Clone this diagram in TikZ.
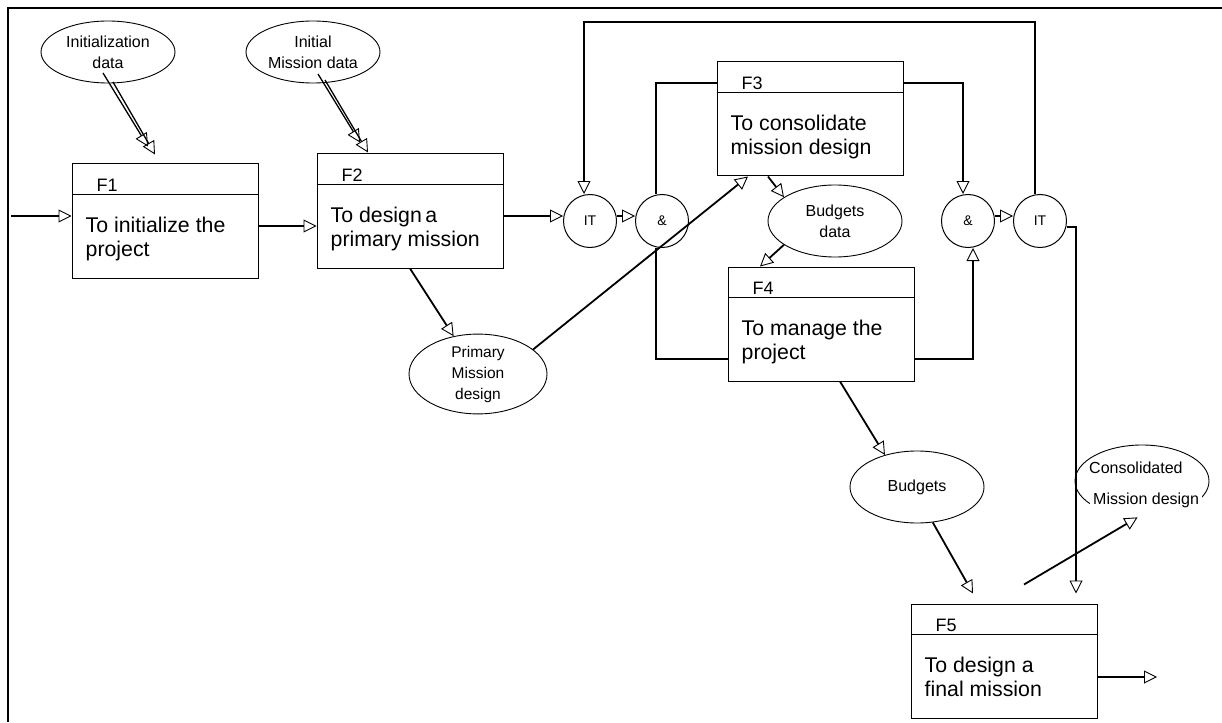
\documentclass[tikz,border=0pt]{standalone}
\usepackage{fontspec}
\setmainfont{Liberation Sans}
\usetikzlibrary{shapes.geometric, arrows.meta, calc}

\begin{document}
\begin{tikzpicture}[
        x=1pt, y=-1pt,
        fbox/.style={rectangle, draw, line width=1pt, minimum width=186pt, minimum height=114pt, inner sep=0pt},
        fid/.style={anchor=base west, inner sep=0pt, font=\fontsize{18}{20}\selectfont},
        ftext/.style={anchor=base west, inner sep=0pt, align=left, font=\fontsize{21.3}{24}\selectfont},
        info/.style={ellipse, draw, line width=0.9pt, minimum width=134pt, minimum height=72pt, inner sep=0pt, align=center, font=\fontsize{16}{21}\selectfont},
        gate/.style={circle, draw, line width=1pt, minimum size=53pt, inner sep=0pt, font=\fontsize{14}{16}\selectfont},
        hline/.style={line width=1.8pt},
        wire/.style={line width=1.8pt},
        arrow/.style={wire, -{Triangle[open, length=13pt, width=13pt, line width=0.9pt]}},
        twin/.style={arrow, line width=1.3pt}
    ]
        \useasboundingbox (0,0) rectangle (1222,722);
        \draw[line width=1.2pt] (8,722) -- (8,8) -- (1222,8);

        % 1. Function blocks
        \node[fbox] (f1) at (165,221) {};
        \node[fbox] (f2) at (410,211) {};
        \node[fbox] (f3) at (810,119) {};
        \node[fbox] (f4) at (821,324) {};
        \node[fbox] (f5) at (1004,661) {};

        \draw[hline] ([yshift=-31pt]f1.north west) -- ([yshift=-31pt]f1.north east);
        \draw[hline] ([yshift=-31pt]f2.north west) -- ([yshift=-31pt]f2.north east);
        \draw[hline] ([yshift=-31pt]f3.north west) -- ([yshift=-31pt]f3.north east);
        \draw[hline] ([yshift=-31pt]f4.north west) -- ([yshift=-31pt]f4.north east);
        \draw[hline] ([yshift=-31pt]f5.north west) -- ([yshift=-31pt]f5.north east);

        \node[fid] (f1id) at ([xshift=25pt, yshift=-28pt]f1.north west) {F1};
        \node[fid] (f2id) at ([xshift=25pt, yshift=-28pt]f2.north west) {F2};
        \node[fid] (f3id) at ([xshift=25pt, yshift=-28pt]f3.north west) {F3};
        \node[fid] (f4id) at ([xshift=25pt, yshift=-28pt]f4.north west) {F4};
        \node[fid] (f5id) at ([xshift=25pt, yshift=-28pt]f5.north west) {F5};

        % base of a two-line text is its second line
        \node[ftext] (f1txt) at ([xshift=14pt, yshift=-93pt]f1.north west) {To initialize the\\project};
        \node[ftext] (f2txt) at ([xshift=14pt, yshift=-93pt]f2.north west) {To design\,a\\primary mission};
        \node[ftext] (f3txt) at ([xshift=14pt, yshift=-93pt]f3.north west) {To consolidate\\mission design};
        \node[ftext] (f4txt) at ([xshift=14pt, yshift=-93pt]f4.north west) {To manage the\\project};
        \node[ftext] (f5txt) at ([xshift=14pt, yshift=-93pt]f5.north west) {To design a\\final mission};

        % 2. Data items
        \node[info, minimum height=62pt] (idata) at (108,52) {Initialization\\data};
        \node[info, minimum height=62pt] (imdata) at (313,52) {Initial\\Mission data};
        \node[info, minimum width=138pt, font=\fontsize{15.5}{21}\selectfont] (pmd) at (478,374) {Primary\\Mission\\design};
        \node[info] (bdata) at (835,221) {Budgets\\data};
        \node[info] (budgets) at (917,487) {Budgets};
        \node[info] (cmd) at (1142,481) {};
        \node[anchor=base west, inner sep=0pt, font=\fontsize{16}{21}\selectfont] (cmdtop) at ([xshift=-53pt, yshift=8pt]cmd.center) {Consolidated};
        \node[anchor=base west, fill=white, inner xsep=3pt, inner ysep=0pt, text height=23pt, text depth=15pt, font=\fontsize{16}{21}\selectfont] (cmdbot) at ([xshift=-52pt, yshift=-23pt]cmd.center) {Mission design};

        % 3. Iteration and join gates
        \node[gate] (it1) at (590,221) {IT};
        \node[gate] (and1) at (662,221) {\&};
        \node[gate] (and2) at (968,221) {\&};
        \node[gate] (it2) at (1040,221) {IT};

        \coordinate (start) at (11,216);
        \coordinate (finish) at (1157,677);
        \coordinate (looptop) at (0,22);
        \coordinate (f1out) at ([yshift=-5pt]f1.east);
        \coordinate (f2out) at ([yshift=-5pt]f2.east);
        \coordinate (it1top) at ([xshift=-6pt]it1.north);
        \coordinate (it2top) at ([xshift=-5pt]it2.north);

        % Connections
        \draw[twin] ([xshift=-5pt, yshift=-21pt]idata.center) -- ([xshift=-17pt, yshift=17pt]f1.north);
        \draw[twin] ([xshift=5pt, yshift=-30pt]idata.center) -- ([xshift=-10pt, yshift=9pt]f1.north);
        \draw[twin] ([xshift=5pt, yshift=-22pt]imdata.center) -- ([xshift=-50pt, yshift=11pt]f2.north);
        \draw[twin] ([xshift=12pt, yshift=-28pt]imdata.center) -- ([xshift=-42pt, yshift=1pt]f2.north);

        \draw[arrow] (start) -- (start -| f1.west);
        \draw[arrow] (f1out) -- (f1out -| f2.west);
        \draw[arrow] (f2out) -- (f2out -| it1.west);
        \draw[arrow] ([yshift=5pt]it1.east) -- ([yshift=5pt]and1.west);

        \draw[arrow] (it2top) |- (looptop -| it1top) -- (it1top);

        \draw[wire] ([xshift=-6pt]and1.north) |- ([yshift=36pt]f3.west);
        \draw[wire] ([xshift=-6pt]and1.south) |- ([yshift=-35pt]f4.west);

        \draw[arrow] ([yshift=36pt]f3.east) -| ([xshift=-5pt]and2.north);
        \draw[arrow] ([yshift=-35pt]f4.east) -| ([xshift=5pt]and2.south);
        \draw[arrow] ([yshift=5pt]and2.east) -- ([yshift=5pt]it2.west);
        \draw[arrow] ([yshift=-6pt]it2.east) -| ([xshift=72pt, yshift=10pt]f5.north);

        \draw[arrow] (f2.south) -- (pmd);
        \draw[arrow] (pmd.24) -- ([xshift=-62pt]f3.south);
        \draw[arrow] ([xshift=-42pt]f3.south) -- (bdata.155);
        \draw[arrow] (bdata.205) -- ([xshift=-61pt]f4.north);
        \draw[arrow] ([xshift=19pt]f4.south) -- (budgets.135);
        \draw[arrow] (budgets.-66) -- ([xshift=-31pt, yshift=10pt]f5.north);
        \draw[arrow] ([xshift=20pt, yshift=19pt]f5.north) -- (cmd.-97);
        \draw[arrow] ([yshift=-16pt]f5.east) -- (finish);

    \end{tikzpicture}
\end{document}
